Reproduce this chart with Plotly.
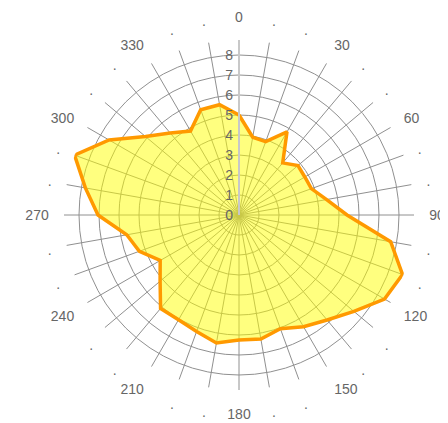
import plotly.graph_objects as go

# Data (direction in degrees, radial value)
directions = [0, 10, 20, 30, 40, 50, 60, 70, 80, 90, 100, 110, 120, 130, 140, 150, 160, 170,
              180, 190, 200, 210, 220, 230, 240, 250, 260, 270, 280, 290, 300, 310, 320, 330, 340, 350]
values = [5.0, 3.95, 3.9, 4.8, 3.4, 3.85, 3.8, 3.85, 4.45, 5.4, 7.7, 8.7, 8.4, 7.5, 6.85, 6.45, 6.05, 6.3,
          6.25, 6.5, 6.2, 6.05, 6.1, 5.15, 4.55, 5.3, 5.7, 7.05, 7.8, 8.75, 7.5, 6.1, 5.35, 4.85, 5.6, 5.6]

angle_ticks = list(range(0, 360, 10))
angle_labels = [str(a) if a % 30 == 0 else "." for a in angle_ticks]
radial_ticks = [0, 1, 2, 3, 4, 5, 6, 7, 8]
radial_max = 8.75

fig = go.Figure()
fig.add_trace(go.Scatterpolar(
    r=values + values[:1],
    theta=directions + directions[:1],
    mode="lines",
    fill="toself",
    fillcolor="rgba(255,255,0,0.5)",
    line=dict(color="#FF9900", width=3.5),
    hoverinfo="skip",
    showlegend=False,
))

fig.update_layout(
    width=448, height=423,
    margin=dict(l=56, r=42, t=32, b=41),
    paper_bgcolor="white",
    plot_bgcolor="white",
    font=dict(family="Liberation Sans, Arial, sans-serif", size=14, color="#666666"),
    polar=dict(
        bgcolor="white",
        angularaxis=dict(
            rotation=90, direction="clockwise",
            tickmode="array", tickvals=angle_ticks, ticktext=angle_labels,
            showline=False, showgrid=True, gridcolor="#909090", gridwidth=1,
            ticks="outside", ticklen=12, tickcolor="rgba(0,0,0,0)",
            tickfont=dict(size=14, color="#666666"),
        ),
        radialaxis=dict(
            range=[0, radial_max], angle=90, tickangle=90,
            tickmode="array", tickvals=radial_ticks,
            showline=True, linecolor="#c8c8c8", linewidth=2,
            showgrid=True, gridcolor="#909090", gridwidth=1,
            ticks="", side="counterclockwise",
            tickfont=dict(size=14, color="#666666"),
        ),
    ),
)

fig.write_html("out.html")
